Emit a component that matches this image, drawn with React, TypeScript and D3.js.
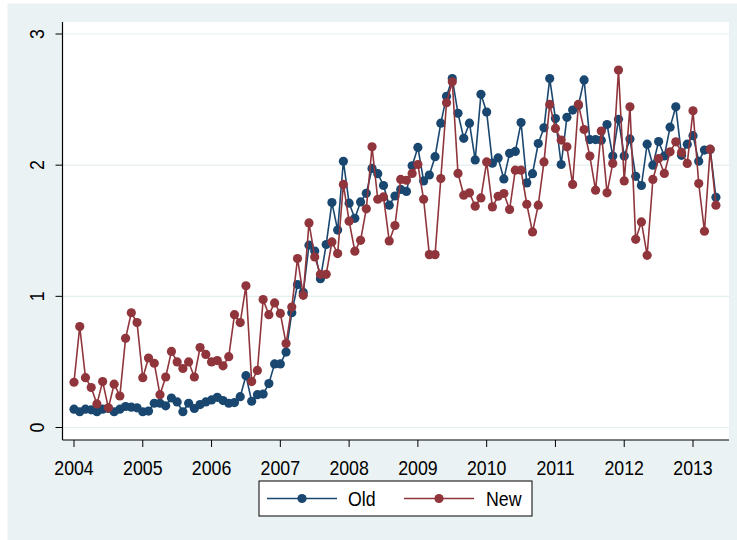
import React from "react";
import * as d3 from "d3";

// Monthly series, January 2004 through May 2013
const startYear = 2004;
const oldValues = [
  0.14, 0.12, 0.14, 0.135, 0.12, 0.14, 0.145, 0.12, 0.14, 0.16, 0.155, 0.15,
  0.12, 0.125, 0.185, 0.185, 0.165, 0.225, 0.195, 0.12, 0.185, 0.145, 0.175, 0.195,
  0.21, 0.23, 0.205, 0.185, 0.19, 0.235, 0.395, 0.2, 0.25, 0.255, 0.335, 0.485,
  0.485, 0.575, 0.875, 1.09, 1.03, 1.39, 1.345, 1.135, 1.395, 1.715, 1.505, 2.03,
  1.71, 1.595, 1.72, 1.785, 1.975, 1.935, 1.845, 1.695, 1.765, 1.815, 1.8, 1.995,
  2.135, 1.88, 1.925, 2.065, 2.32, 2.525, 2.66, 2.395, 2.205, 2.32, 2.04, 2.54,
  2.405, 2.015, 2.055, 1.895, 2.09, 2.105, 2.325, 1.865, 1.935, 2.165, 2.285, 2.66,
  2.355, 2.005, 2.365, 2.42, 2.455, 2.65, 2.195, 2.195, 2.19, 2.31, 2.07, 2.35,
  2.07, 2.2, 1.915, 1.845, 2.16, 2.0, 2.18, 2.07, 2.29, 2.445, 2.075, 2.16,
  2.225, 2.03, 2.115, 2.12, 1.755,
];
const newValues = [
  0.345, 0.77, 0.38, 0.305, 0.18, 0.35, 0.15, 0.33, 0.24, 0.68, 0.875, 0.8,
  0.38, 0.53, 0.49, 0.25, 0.385, 0.58, 0.5, 0.45, 0.5, 0.385, 0.61, 0.557,
  0.5, 0.51, 0.47, 0.54, 0.86, 0.8, 1.08, 0.35, 0.435, 0.975, 0.86, 0.95,
  0.87, 0.64, 0.918, 1.288, 1.008, 1.56, 1.3, 1.168, 1.168, 1.415, 1.326, 1.853,
  1.573, 1.344, 1.427, 1.667, 2.14, 1.74, 1.758, 1.422, 1.54, 1.891, 1.885, 1.937,
  2.005, 1.74, 1.318, 1.318, 1.898, 2.476, 2.636, 1.937, 1.771, 1.789, 1.687, 1.75,
  2.025, 1.682, 1.763, 1.784, 1.662, 1.962, 1.962, 1.702, 1.491, 1.695, 2.025, 2.463,
  2.28, 2.191, 2.14, 1.853, 2.463, 2.272, 2.069, 1.809, 2.26, 1.789, 2.013, 2.725,
  1.88, 2.445, 1.435, 1.567, 1.313, 1.891, 2.051, 1.937, 2.102, 2.178, 2.097, 2.013,
  2.415, 1.86, 1.496, 2.122, 1.695,
];
const xTicks = [2004, 2005, 2006, 2007, 2008, 2009, 2010, 2011, 2012, 2013];
const yTicks = [0, 1, 2, 3];
const seriesNames = ["Old", "New"];

const W = 737;
const H = 540;
const BG = "#EAF2F3";
const GRID = "#E4EDEF";
const BLUE = "#1A476F";
const RED = "#90353B";
const FONT = "'Liberation Sans', Arial, Helvetica, sans-serif";
const FS = 19.5;
const NARROW = 0.91;

const plot = { left: 62.5, right: 729, top: 22, bottom: 440 };

// Text drawn slightly condensed, anchored at (x, y)
function Label(props: {
  x: number;
  y: number;
  anchor?: "start" | "middle" | "end";
  rotate?: number;
  children: React.ReactNode;
}) {
  const { x, y, anchor = "start", rotate = 0, children } = props;
  return (
    <text
      transform={`translate(${x},${y}) rotate(${rotate}) scale(${NARROW},1)`}
      textAnchor={anchor}
      fontSize={FS}
      fill="#000"
    >
      {children}
    </text>
  );
}

export default function App() {
  const x = d3.scaleLinear().domain([2004, 2013]).range([74, 693]);
  const y = d3.scaleLinear().domain([0, 3]).range([427.5, 34]);

  const toPoints = (vals: number[]) =>
    vals.map((v, i) => ({ t: startYear + i / 12, v }));
  const series = [
    { name: seriesNames[0], color: BLUE, pts: toPoints(oldValues) },
    { name: seriesNames[1], color: RED, pts: toPoints(newValues) },
  ];
  const line = d3
    .line<{ t: number; v: number }>()
    .x((d) => x(d.t))
    .y((d) => y(d.v));

  const legend = { x: 259, y: 481, w: 273, h: 35 };
  const legendItems = [
    { name: seriesNames[0], color: BLUE, x0: 267, x1: 337, tx: 348 },
    { name: seriesNames[1], color: RED, x0: 404, x1: 474, tx: 486 },
  ];
  const ly = legend.y + legend.h / 2;

  return (
    <svg
      width={W}
      height={H}
      style={{ position: "absolute", left: 0, top: 0, display: "block" }}
      fontFamily={FONT}
    >
      <rect x={0} y={0} width={W} height={H} fill="#ffffff" />
      <rect x={7.5} y={3.5} width={W - 7.5} height={H - 3.5} fill={BG} />
      <rect
        x={plot.left}
        y={plot.top}
        width={plot.right - plot.left}
        height={plot.bottom - plot.top}
        fill="#ffffff"
      />

      {/* horizontal grid */}
      {yTicks.map((t) => (
        <line
          key={"g" + t}
          x1={plot.left}
          x2={plot.right}
          y1={y(t)}
          y2={y(t)}
          stroke={GRID}
          strokeWidth={1.2}
        />
      ))}

      {/* series */}
      {series.map((s) => (
        <g key={s.name}>
          <path
            d={line(s.pts) || ""}
            fill="none"
            stroke={s.color}
            strokeWidth={1.6}
            strokeLinejoin="round"
          />
          {s.pts.map((p, i) => (
            <circle key={i} cx={x(p.t)} cy={y(p.v)} r={4.6} fill={s.color} />
          ))}
        </g>
      ))}

      {/* axes */}
      <line
        x1={plot.left}
        x2={plot.left}
        y1={plot.top}
        y2={plot.bottom}
        stroke="#000"
        strokeWidth={1.2}
      />
      <line
        x1={plot.left}
        x2={plot.right}
        y1={plot.bottom}
        y2={plot.bottom}
        stroke="#000"
        strokeWidth={1.2}
      />
      {yTicks.map((t) => (
        <g key={"y" + t}>
          <line
            x1={plot.left - 7}
            x2={plot.left}
            y1={y(t)}
            y2={y(t)}
            stroke="#000"
            strokeWidth={1}
          />
          <Label x={44} y={y(t)} anchor="middle" rotate={-90}>
            {t}
          </Label>
        </g>
      ))}
      {xTicks.map((t) => (
        <g key={"x" + t}>
          <line
            x1={x(t)}
            x2={x(t)}
            y1={plot.bottom}
            y2={plot.bottom + 7}
            stroke="#000"
            strokeWidth={1}
          />
          <Label x={x(t)} y={plot.bottom + 34.5} anchor="middle">
            {t}
          </Label>
        </g>
      ))}

      {/* legend */}
      <rect
        x={legend.x}
        y={legend.y}
        width={legend.w}
        height={legend.h}
        fill="#ffffff"
        stroke="#000"
        strokeWidth={1}
      />
      {legendItems.map((it) => (
        <g key={it.name}>
          <line
            x1={it.x0}
            x2={it.x1}
            y1={ly}
            y2={ly}
            stroke={it.color}
            strokeWidth={1.6}
          />
          <circle cx={(it.x0 + it.x1) / 2} cy={ly} r={4.6} fill={it.color} />
          <Label x={it.tx} y={ly + 7}>
            {it.name}
          </Label>
        </g>
      ))}
    </svg>
  );
}
